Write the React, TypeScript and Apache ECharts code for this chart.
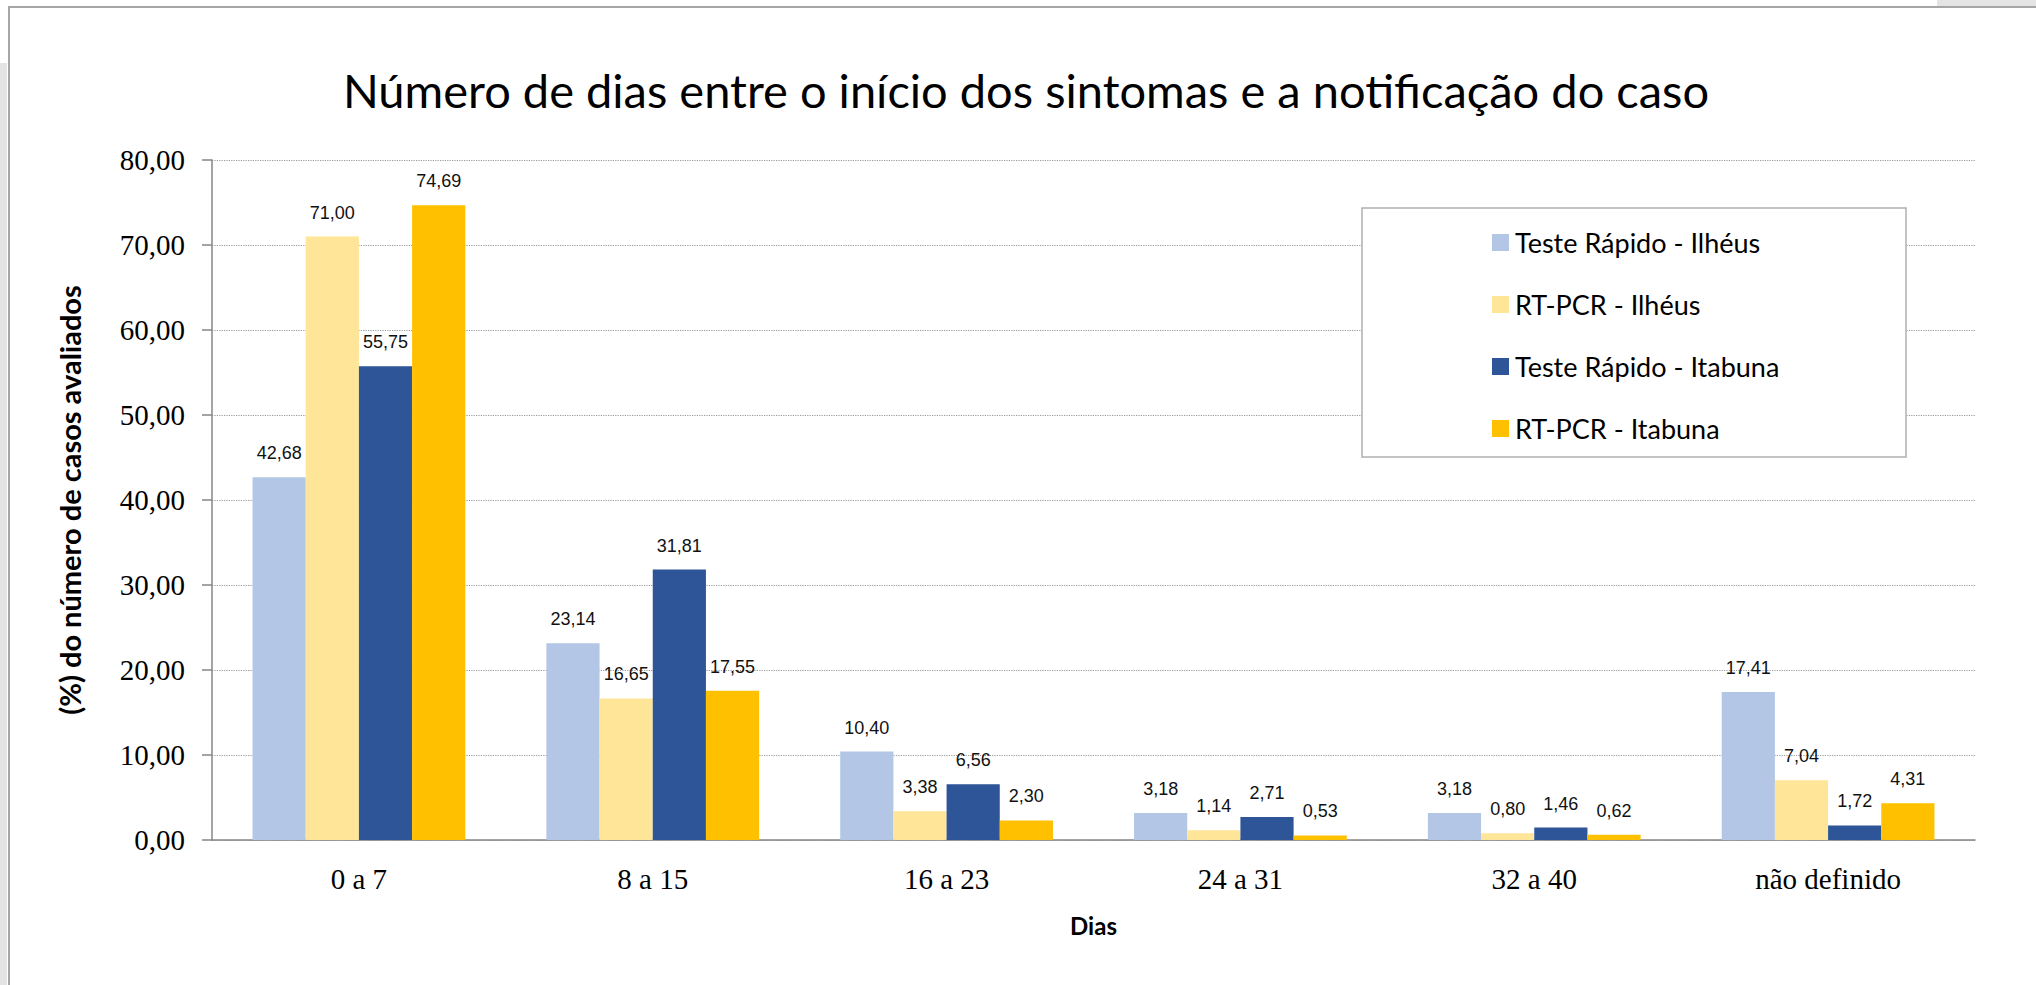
import React, { useEffect, useRef } from "react";
import * as echarts from "echarts";

const categories = ["0 a 7", "8 a 15", "16 a 23", "24 a 31", "32 a 40", "não definido"];
const seriesNames = [
  "Teste Rápido - Ilhéus",
  "RT-PCR - Ilhéus",
  "Teste Rápido - Itabuna",
  "RT-PCR - Itabuna",
];
const testeRapidoIlheus = [42.68, 23.14, 10.4, 3.18, 3.18, 17.41];
const rtpcrIlheus = [71.0, 16.65, 3.38, 1.14, 0.8, 7.04];
const testeRapidoItabuna = [55.75, 31.81, 6.56, 2.71, 1.46, 1.72];
const rtpcrItabuna = [74.69, 17.55, 2.3, 0.53, 0.62, 4.31];
const seriesColors = ["#B3C6E6", "#FFE598", "#2E5597", "#FFC000"];
const titleText = "Número de dias entre o início dos sintomas e a notificação do caso";
const yAxisTitle = "(%) do número de casos avaliados";
const xAxisTitle = "Dias";

const fmt = (v: number) => v.toFixed(2).replace(".", ",");

export default function App() {
  const ref = useRef<HTMLDivElement>(null);
  useEffect(() => {
    if (!ref.current) return;
    const chart = echarts.init(ref.current, undefined, { renderer: "svg" });
    const values = [testeRapidoIlheus, rtpcrIlheus, testeRapidoItabuna, rtpcrItabuna];
    chart.setOption({
      animation: false,
      backgroundColor: "#ffffff",
      grid: { left: 212, right: 61, top: 160, bottom: 145, containLabel: false },
      graphic: [
        { type: "rect", shape: { x: 0, y: 63, width: 7, height: 930 }, style: { fill: "#e4e4e4" }, z: 0 },
        { type: "rect", shape: { x: 1937, y: 0, width: 99, height: 6 }, style: { fill: "#e4e4e4" }, z: 0 },
        {
          type: "rect",
          shape: { x: 9, y: 7, width: 2100, height: 1100 },
          style: { fill: "none", stroke: "#a6a6a6", lineWidth: 2 },
          z: 0,
        },
        {
          type: "rect",
          shape: { x: 1362, y: 208, width: 544, height: 249 },
          style: { fill: "#ffffff", stroke: "#b0b0b0", lineWidth: 1.5 },
          z: 5,
        },
        {
          type: "text",
          x: 1026,
          y: 90,
          style: {
            text: titleText,
            align: "center",
            verticalAlign: "middle",
            fontFamily: "Lato",
            fontSize: 47,
            fill: "#000000",
          },
          z: 10,
        },
      ],
      legend: {
        orient: "vertical",
        left: 1487,
        top: 224,
        itemGap: 35,
        itemWidth: 17,
        itemHeight: 17,
        icon: "rect",
        z: 10,
        textStyle: { fontFamily: "Lato", fontSize: 27, color: "#000000", padding: [0, 0, 0, 1] },
        data: seriesNames,
      },
      xAxis: {
        type: "category",
        data: categories,
        name: xAxisTitle,
        nameLocation: "middle",
        nameGap: 73,
        nameTextStyle: { fontFamily: "Lato", fontWeight: "bold", fontSize: 24, color: "#000" },
        axisLine: { lineStyle: { color: "#868686", width: 1.5 } },
        axisTick: { length: 8, lineStyle: { color: "#868686", width: 1.5 } },
        axisLabel: { fontFamily: "Liberation Serif", fontSize: 29, color: "#000", margin: 24 },
      },
      yAxis: {
        type: "value",
        min: 0,
        max: 80,
        interval: 10,
        name: yAxisTitle,
        nameLocation: "middle",
        nameGap: 128,
        nameTextStyle: { fontFamily: "Lato", fontWeight: "bold", fontSize: 29, color: "#000" },
        axisLine: { show: true, lineStyle: { color: "#868686", width: 1.5 } },
        axisTick: { show: true, length: 10, lineStyle: { color: "#868686", width: 1.5 } },
        axisLabel: {
          fontFamily: "Liberation Serif",
          fontSize: 29,
          color: "#000",
          margin: 27,
          formatter: (v: number) => fmt(v),
        },
        splitLine: { lineStyle: { type: "dotted", color: "#9a9a9a", width: 1.2 } },
      },
      series: seriesNames.map((name, i) => ({
        name,
        type: "bar",
        data: values[i],
        barGap: "0%",
        barCategoryGap: "27.6%",
        itemStyle: { color: seriesColors[i] },
        label: {
          show: true,
          position: "top",
          distance: 15,
          fontFamily: "Liberation Sans",
          fontSize: 18,
          color: "#111",
          formatter: (p: any) => fmt(p.value),
        },
      })),
    });
    return () => chart.dispose();
  }, []);
  return (
    <div
      ref={ref}
      style={{ position: "absolute", left: 0, top: 0, width: 2036, height: 985 }}
    />
  );
}
